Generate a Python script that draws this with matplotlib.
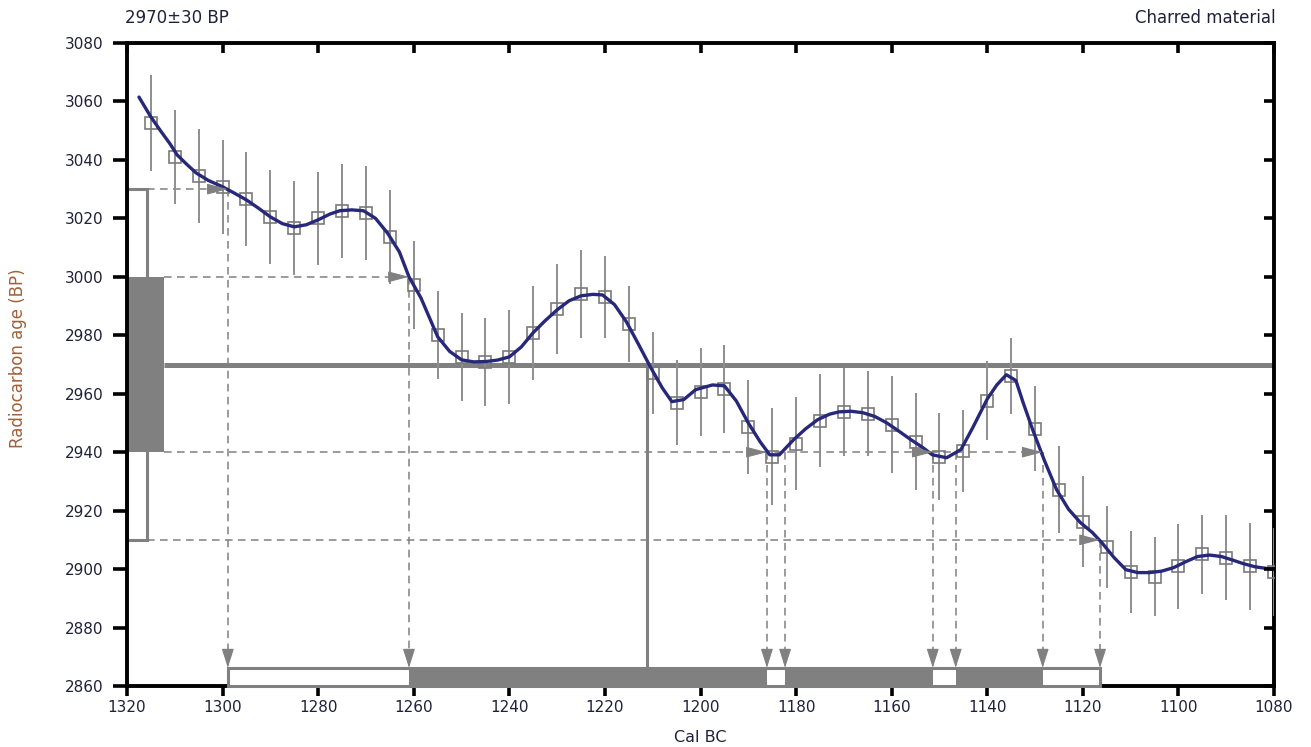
import matplotlib
matplotlib.use("Agg")
import matplotlib.pyplot as plt
from matplotlib.patches import Rectangle

plt.rcParams['font.family'] = ['DejaVu Sans']

# ---- data -------------------------------------------------------------
years = [1315, 1310, 1305, 1300, 1295, 1290, 1285, 1280, 1275, 1270, 1265, 1260,
         1255, 1250, 1245, 1240, 1235, 1230, 1225, 1220, 1215, 1210, 1205, 1200,
         1195, 1190, 1185, 1180, 1175, 1170, 1165, 1160, 1155, 1150, 1145, 1140,
         1135, 1130, 1125, 1120, 1115, 1110, 1105, 1100, 1095, 1090, 1085, 1080]
bp = [3052.6, 3041.0, 3034.5, 3030.8, 3026.7, 3020.5, 3016.7, 3020.0, 3022.6, 3021.8,
      3013.7, 2997.3, 2980.2, 2972.6, 2970.9, 2972.6, 2980.8, 2989.0, 2994.2, 2993.0,
      2983.9, 2967.2, 2956.9, 2960.7, 2961.7, 2948.7, 2938.5, 2942.9, 2950.8, 2953.8,
      2953.2, 2949.4, 2943.6, 2938.5, 2940.5, 2957.6, 2966.0, 2948.0, 2927.2, 2916.2,
      2907.7, 2899.1, 2897.4, 2900.9, 2905.0, 2903.9, 2900.9, 2899.1]
err = [16.5, 16, 16, 16, 16, 16, 16, 16, 16, 16, 16, 15,
       15, 15, 15, 16, 16, 15.5, 15, 14, 13, 14, 14.5, 15,
       15, 16, 16.5, 16, 16, 15, 14.5, 16.5, 16.5, 15, 14, 13.5,
       13, 14.5, 15, 15.5, 14, 14, 13.5, 14.5, 13.5, 14.5, 15, 15]

curve_year = [1317.5, 1315, 1313, 1311, 1309.5, 1307.5, 1305.5, 1303, 1300, 1297.5, 1295,
              1292.5, 1290, 1287.5, 1285, 1282.5, 1280, 1277.5, 1275.5, 1273, 1270.5,
              1268, 1265.5, 1263, 1261, 1258.5, 1255, 1252.5, 1250, 1247.5, 1245, 1242.5,
              1240, 1237.5, 1235, 1232.5, 1230, 1227.5, 1225, 1222.5, 1220.5, 1218,
              1215.5, 1213, 1210.5, 1208, 1206, 1203.5, 1201, 1197.5, 1195, 1192.5, 1190,
              1187.5, 1185.5, 1183.5, 1180.5, 1178, 1175.5, 1173, 1171, 1168.5, 1166,
              1163.5, 1161, 1158.5, 1156, 1153.5, 1151.5, 1148.5, 1145.5, 1143, 1140,
              1138, 1136, 1134, 1132.5, 1130.5, 1128, 1125.5, 1123, 1120.5, 1118, 1116,
              1113.5, 1111, 1108.5, 1106, 1103.5, 1101, 1098.5, 1096, 1093.5, 1091,
              1088.5, 1086.5, 1084, 1081.5, 1080]
curve_bp = [3061.5, 3054.7, 3050.0, 3045.5, 3041.7, 3038.5, 3035.5, 3033.0, 3030.8,
            3028.6, 3026.3, 3023.5, 3020.5, 3018.2, 3017.1, 3017.8, 3019.5, 3021.5,
            3022.6, 3022.9, 3022.6, 3020.0, 3015.0, 3008.5, 3000.0, 2992.8, 2979.5,
            2974.5, 2971.6, 2970.9, 2971.0, 2971.5, 2972.6, 2976.0, 2980.9, 2985.0,
            2988.7, 2991.8, 2993.5, 2994.0, 2993.8, 2990.5, 2984.6, 2977.0, 2969.2,
            2962.0, 2957.3, 2958.0, 2961.4, 2963.0, 2962.7, 2957.5, 2950.0, 2943.5,
            2939.1, 2939.1, 2944.3, 2948.0, 2951.1, 2953.0, 2953.8, 2954.0, 2953.5,
            2952.2, 2950.0, 2947.2, 2944.3, 2941.6, 2939.1, 2938.1, 2940.9, 2948.5,
            2958.2, 2963.0, 2966.5, 2964.5, 2957.0, 2947.7, 2937.0, 2927.2, 2920.5,
            2915.9, 2912.5, 2909.0, 2904.0, 2899.8, 2898.8, 2898.8, 2899.3, 2900.5,
            2902.5, 2904.3, 2904.8, 2904.3, 2903.0, 2901.9, 2900.8, 2900.2, 2900.0]

sample_bp = 2970
sample_err = 30
sigma1 = [2940, 3000]
sigma2 = [2910, 3030]
intercept_year = 1211.2
range1 = [(1261, 1186.1), (1182.3, 1151.4), (1146.6, 1128.4)]
range2 = [(1298.9, 1116.4)]
cross_2s = [(1298.9, 3030), (1116.4, 2910)]
cross_1s = [(1261, 3000), (1186.1, 2940), (1182.3, 2940), (1151.4, 2940),
            (1146.6, 2940), (1128.4, 2940)]
harrow = [(1298.9, 3030), (1261, 3000), (1186.1, 2940), (1151.4, 2940),
          (1128.4, 2940), (1116.4, 2910)]

xticks = [1320, 1300, 1280, 1260, 1240, 1220, 1200, 1180, 1160, 1140, 1120, 1100, 1080]
yticks = [2860, 2880, 2900, 2920, 2940, 2960, 2980, 3000, 3020, 3040, 3060, 3080]

# ---- figure -----------------------------------------------------------
W, H = 1311, 747
fig = plt.figure(figsize=(W / 100, H / 100), dpi=100)
rect = [127 / W, 61 / H, (1274 - 127) / W, (686 - 43) / H]
ax = fig.add_axes(rect)
ax.set_xlim(1320, 1080)
ax.set_ylim(2860, 3080)

GRAY = '#808080'
NAVY = '#27287a'
TXT = '#20203a'

# error bars and squares
ax.vlines(years, [b - e for b, e in zip(bp, err)], [b + e for b, e in zip(bp, err)],
          color='#8e8e8e', lw=1.4, zorder=3)
ax.plot(years, bp, ls='none', marker='s', ms=8, mfc='none', mec='#7a7a7a', mew=1.2, zorder=4)
ax.plot(curve_year, curve_bp, color=NAVY, lw=2.4, solid_joinstyle='round',
        solid_capstyle='round', zorder=5)

# sample distribution on the left
bar_x2 = 1315.9
bar_x1 = 1312.3
ax.add_patch(Rectangle((1320, sigma2[0]), bar_x2 - 1320, sigma2[1] - sigma2[0],
                       fc='white', ec=GRAY, lw=2.2, zorder=2, clip_on=False))
ax.add_patch(Rectangle((1320, sigma1[0]), bar_x1 - 1320, sigma1[1] - sigma1[0],
                       fc=GRAY, ec='none', zorder=2, clip_on=False))
ax.plot([bar_x1, 1080], [sample_bp, sample_bp], color=GRAY, lw=3.6,
        solid_capstyle='butt', zorder=2)

# dashed guides
dash = dict(color=GRAY, lw=1.1, ls=(0, (5, 3.5)), zorder=1)
ax.plot([bar_x2, cross_2s[0][0]], [sigma2[1]] * 2, **dash)
ax.plot([bar_x1, range1[0][0]], [sigma1[1]] * 2, **dash)
ax.plot([bar_x1, range1[-1][1]], [sigma1[0]] * 2, **dash)
ax.plot([bar_x2, cross_2s[1][0]], [sigma2[0]] * 2, **dash)

bar_top = 2866.2
for xx, yy in cross_2s + cross_1s:
    ax.plot([xx, xx], [yy, bar_top + 5], **dash)
    ax.annotate('', xy=(xx, bar_top), xytext=(0, 13), textcoords='offset points',
                arrowprops=dict(arrowstyle='-|>,head_length=1.2,head_width=0.38',
                                mutation_scale=10, color=GRAY, lw=0.8,
                                shrinkA=0, shrinkB=0), zorder=6)
for xx, yy in harrow:
    ax.annotate('', xy=(xx, yy), xytext=(-14, 0), textcoords='offset points',
                arrowprops=dict(arrowstyle='-|>,head_length=1.3,head_width=0.34',
                                mutation_scale=10, color=GRAY, lw=0.8,
                                shrinkA=0, shrinkB=0), zorder=6)

# intercept line
ax.plot([intercept_year, intercept_year], [sample_bp, bar_top], color=GRAY, lw=2.2,
        solid_capstyle='butt', zorder=2)

# calibrated ranges along the bottom
for a, b in range2:
    ax.add_patch(Rectangle((a, 2860), b - a, bar_top - 2860, fc='white', ec=GRAY,
                           lw=2.2, zorder=3, clip_on=False))
for a, b in range1:
    ax.add_patch(Rectangle((a, 2860), b - a, bar_top - 2860, fc=GRAY, ec='none',
                           zorder=3.1, clip_on=False))

# axes styling
for s in ax.spines.values():
    s.set_linewidth(2.8)
    s.set_color('black')
    s.set_zorder(2.5)
ax.set_xticks(xticks)
ax.set_yticks(yticks)
ax.set_xticklabels([str(v) for v in xticks])
ax.set_yticklabels([str(v) for v in yticks])
ax.tick_params(axis='y', direction='out', length=10, width=2.6, labelsize=11,
               labelcolor=TXT, pad=7)
ax.tick_params(axis='x', direction='out', length=7, width=2.6, labelsize=11,
               labelcolor=TXT, pad=3)

ax2 = fig.add_axes(rect, frameon=False)
ax2.set_xlim(ax.get_xlim())
ax2.set_ylim(ax.get_ylim())
ax2.set_xticks(xticks)
ax2.set_yticks(yticks)
ax2.patch.set_visible(False)
ax2.tick_params(axis='both', direction='in', width=2.6, length=7,
                bottom=False, left=False, top=True, right=True,
                labelbottom=False, labelleft=False, labeltop=False, labelright=False)

fig.text(18 / W, 1 - 358 / H, 'Radiocarbon age (BP)', color='#a0603a', fontsize=12,
         rotation=90, ha='center', va='center')
fig.text(700 / W, 1 - 737 / H, 'Cal BC', color=TXT, fontsize=11.5,
         ha='center', va='center')

fig.text(125 / W, 1 - 18 / H, '2970±30 BP', fontsize=12, color=TXT,
         ha='left', va='center')
fig.text(1276 / W, 1 - 18 / H, 'Charred material', fontsize=12, color=TXT,
         ha='right', va='center')

fig.savefig('out.png', dpi=100)
